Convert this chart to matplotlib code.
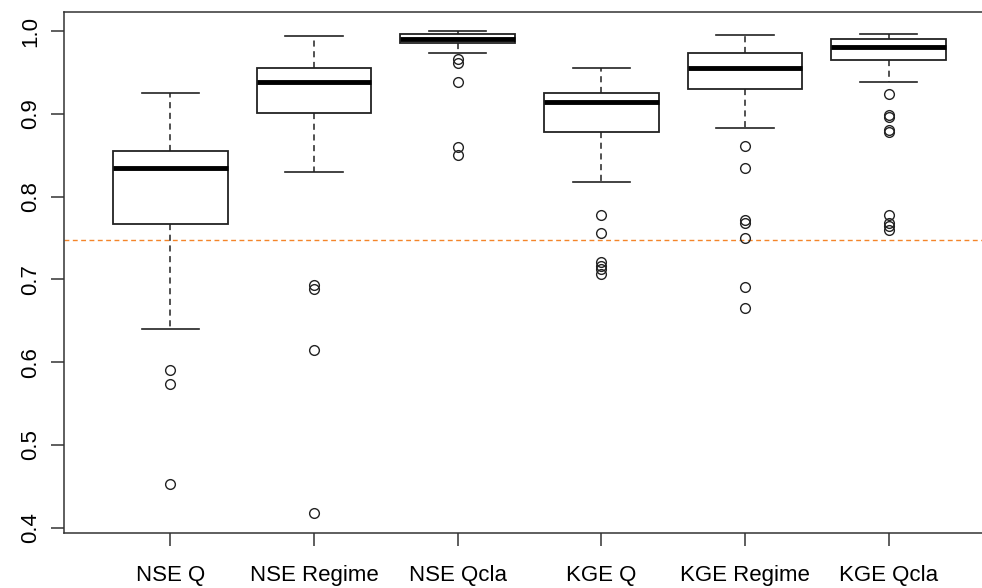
import matplotlib
matplotlib.use("Agg")
import matplotlib.pyplot as plt

plt.rcParams['font.family'] = ['Liberation Sans', 'DejaVu Sans']

# box statistics
labels = ["NSE Q", "NSE Regime", "NSE Qcla", "KGE Q", "KGE Regime", "KGE Qcla"]
whislo = [0.640, 0.830, 0.974, 0.818, 0.883, 0.938]
q1 = [0.767, 0.901, 0.986, 0.878, 0.930, 0.965]
med = [0.835, 0.939, 0.990, 0.914, 0.955, 0.981]
q3 = [0.855, 0.955, 0.996, 0.925, 0.973, 0.990]
whishi = [0.925, 0.994, 0.9995, 0.955, 0.995, 0.997]
fliers = [
    [0.590, 0.574, 0.453],
    [0.693, 0.688, 0.615, 0.418],
    [0.966, 0.961, 0.939, 0.860, 0.850],
    [0.778, 0.756, 0.721, 0.716, 0.712, 0.707],
    [0.861, 0.835, 0.772, 0.768, 0.750, 0.691, 0.665],
    [0.924, 0.899, 0.896, 0.880, 0.878, 0.778, 0.768, 0.764, 0.760],
]
threshold = 0.747

stats = []
for i in range(len(labels)):
    stats.append({"label": labels[i], "whislo": whislo[i], "q1": q1[i], "med": med[i],
                  "q3": q3[i], "whishi": whishi[i], "fliers": fliers[i]})

fig = plt.figure(figsize=(9.82, 5.88), dpi=100)
# right edge of the plot region falls just outside the picture, like the original
ax = fig.add_axes([64 / 982, 1 - 533.3 / 588, (995 - 64) / 982, (533.3 - 12) / 588])

ax.bxp(stats, positions=range(1, 7), widths=0.8, patch_artist=True,
       boxprops=dict(facecolor="white", edgecolor="#222222", linewidth=1.3),
       medianprops=dict(color="black", linewidth=3.5, solid_capstyle="butt"),
       whiskerprops=dict(color="#222222", linewidth=1.1, linestyle=(0, (4, 3))),
       capprops=dict(color="#222222", linewidth=1.2),
       capwidths=0.4,
       flierprops=dict(marker="o", markersize=7, markerfacecolor="none",
                       markeredgecolor="#222222", markeredgewidth=1.0))

ax.axhline(threshold, color="#f4852a", linestyle=(0, (3.5, 2.5)), linewidth=1.0, zorder=1)

ax.set_xlim(0.26, 6.74)
ax.set_ylim(0.3932, 1.023)
ax.set_yticks([0.4, 0.5, 0.6, 0.7, 0.8, 0.9, 1.0])
ax.set_yticklabels(["0.4", "0.5", "0.6", "0.7", "0.8", "0.9", "1.0"])
plt.setp(ax.get_yticklabels(), rotation=90, va="center")

for s in ax.spines.values():
    s.set_color("#333333")
    s.set_linewidth(1.1)
ax.tick_params(axis="both", length=9.5, width=1.1, color="#333333", labelsize=16)
ax.tick_params(axis="y", pad=7)
ax.tick_params(axis="x", pad=13)

fig.savefig("out.png", dpi=100)
